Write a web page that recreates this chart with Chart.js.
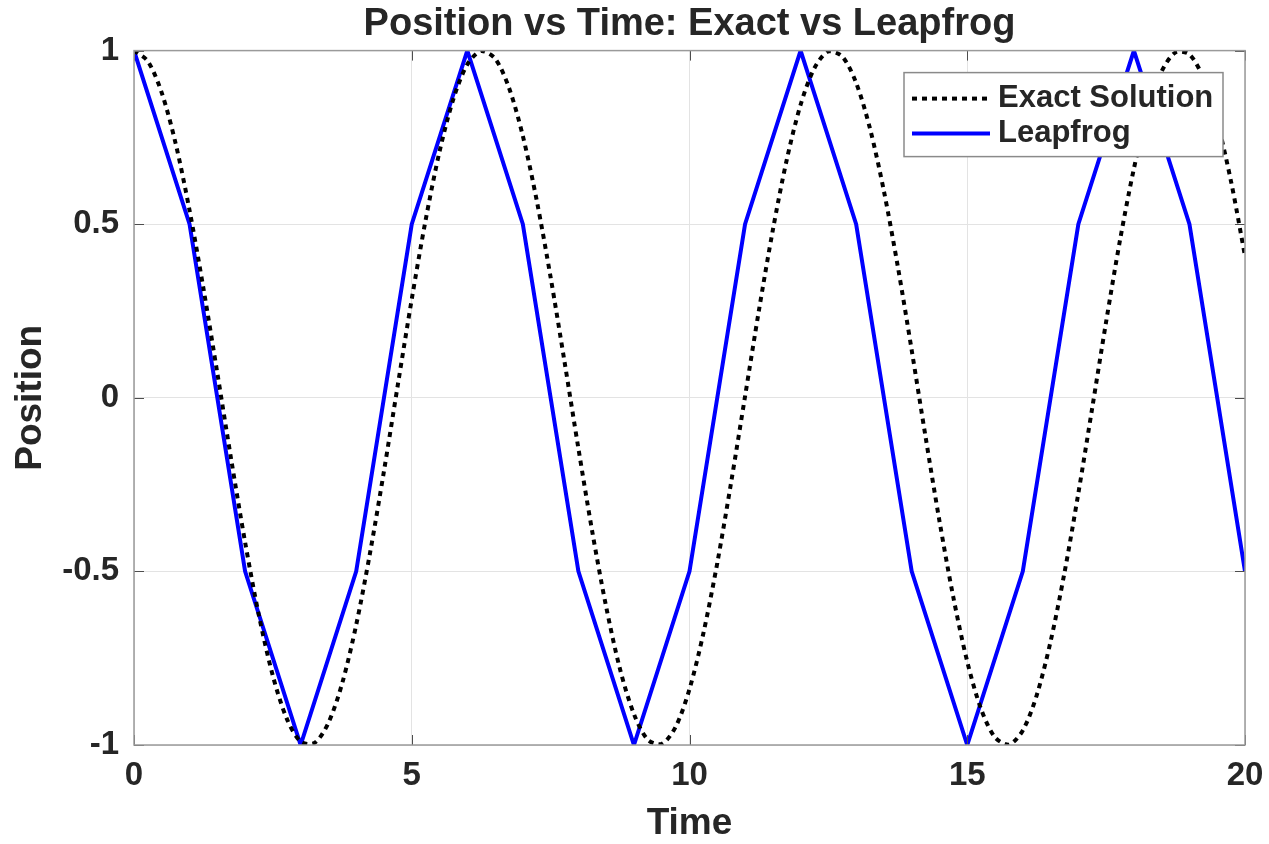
<!DOCTYPE html>
<html>
<head>
<meta charset="utf-8">
<title>Position vs Time</title>
<script src="https://cdn.jsdelivr.net/npm/chart.js@4.4.1/dist/chart.umd.min.js"></script>
<style>
  html, body { margin: 0; padding: 0; background: #fff; }
  #wrap { width: 1269px; height: 844px; }
</style>
</head>
<body>
<div id="wrap"><canvas id="posChart" width="1269" height="844"></canvas></div>
<script>
// leapfrog integration, one sample per time unit
const stepTimes = [0, 1, 2, 3, 4, 5, 6, 7, 8, 9, 10, 11, 12, 13, 14, 15, 16, 17, 18, 19, 20];
const leapfrogPos = [1, 0.5, -0.5, -1, -0.5, 0.5, 1, 0.5, -0.5, -1, -0.5, 0.5, 1, 0.5, -0.5, -1, -0.5, 0.5, 1, 0.5, -0.5];

// exact solution sampled every 0.25
const exactTimes = [
  0, 0.25, 0.5, 0.75, 1, 1.25, 1.5, 1.75, 2, 2.25, 2.5, 2.75, 3, 3.25, 3.5, 3.75,
  4, 4.25, 4.5, 4.75, 5, 5.25, 5.5, 5.75, 6, 6.25, 6.5, 6.75, 7, 7.25, 7.5, 7.75,
  8, 8.25, 8.5, 8.75, 9, 9.25, 9.5, 9.75, 10, 10.25, 10.5, 10.75, 11, 11.25, 11.5, 11.75,
  12, 12.25, 12.5, 12.75, 13, 13.25, 13.5, 13.75, 14, 14.25, 14.5, 14.75, 15, 15.25, 15.5, 15.75,
  16, 16.25, 16.5, 16.75, 17, 17.25, 17.5, 17.75, 18, 18.25, 18.5, 18.75, 19, 19.25, 19.5, 19.75, 20
];
const exactPos = [
  1.000, 0.969, 0.878, 0.732, 0.540, 0.315, 0.071, -0.178, -0.416, -0.628, -0.801, -0.924, -0.990, -0.994, -0.936, -0.821,
  -0.654, -0.446, -0.211, 0.038, 0.284, 0.512, 0.709, 0.861, 0.960, 0.999, 0.977, 0.893, 0.754, 0.568, 0.347, 0.104,
  -0.146, -0.386, -0.602, -0.782, -0.911, -0.985, -0.997, -0.948, -0.839, -0.678, -0.476, -0.243, 0.004, 0.252, 0.483, 0.685,
  0.844, 0.950, 0.998, 0.983, 0.907, 0.775, 0.595, 0.378, 0.137, -0.113, -0.355, -0.575, -0.760, -0.897, -0.978, -0.999,
  -0.958, -0.857, -0.702, -0.504, -0.275, -0.029, 0.219, 0.454, 0.660, 0.826, 0.940, 0.995, 0.989, 0.921, 0.796, 0.622, 0.408
];

const FONT = '"Liberation Sans", Arial, Helvetica, sans-serif';
const TEXT = '#262626';
const EXACT_DASH = [5, 5];

// box around the axes with short inward ticks on every side
const framePlugin = {
  id: 'frame',
  afterDatasetsDraw(chart) {
    const { ctx, chartArea: a, scales } = chart;
    const len = 10;
    ctx.save();
    ctx.strokeStyle = '#4d4d4d';
    ctx.lineWidth = 1;
    ctx.beginPath();
    scales.x.ticks.forEach(t => {
      const px = Math.round(scales.x.getPixelForValue(t.value)) + 0.5;
      ctx.moveTo(px, a.bottom); ctx.lineTo(px, a.bottom - len);
      ctx.moveTo(px, a.top); ctx.lineTo(px, a.top + len);
    });
    scales.y.ticks.forEach(t => {
      const py = Math.round(scales.y.getPixelForValue(t.value)) + 0.5;
      ctx.moveTo(a.left, py); ctx.lineTo(a.left + len, py);
      ctx.moveTo(a.right, py); ctx.lineTo(a.right - len, py);
    });
    ctx.stroke();
    ctx.strokeStyle = '#9a9a9a';
    ctx.lineWidth = 1.5;
    ctx.strokeRect(a.left, a.top, a.right - a.left, a.bottom - a.top);
    ctx.restore();
  }
};

// legend box in the upper right corner of the axes
const boxLegend = {
  id: 'boxLegend',
  afterDraw(chart) {
    const { ctx, chartArea: a } = chart;
    const w = 319, h = 84;
    const x = a.right - 22 - w, y = a.top + 22;
    ctx.save();
    ctx.fillStyle = '#fff';
    ctx.fillRect(x, y, w, h);
    ctx.strokeStyle = '#8a8a8a';
    ctx.lineWidth = 1.5;
    ctx.strokeRect(x, y, w, h);
    ctx.font = 'bold 31px ' + FONT;
    ctx.textBaseline = 'middle';
    ctx.fillStyle = TEXT;
    chart.data.datasets.forEach((ds, i) => {
      const cy = y + 26 + i * 35;
      ctx.beginPath();
      ctx.strokeStyle = ds.borderColor;
      ctx.lineWidth = ds.borderWidth;
      ctx.setLineDash(ds.borderDash || []);
      ctx.moveTo(x + 8, cy);
      ctx.lineTo(x + 86, cy);
      ctx.stroke();
      ctx.setLineDash([]);
      ctx.fillText(ds.label, x + 94, cy);
    });
    ctx.restore();
  }
};

new Chart(document.getElementById('posChart'), {
  type: 'line',
  data: {
    datasets: [
      {
        label: 'Exact Solution',
        data: exactTimes.map((t, i) => ({ x: t, y: exactPos[i] })),
        borderColor: '#000000',
        borderWidth: 4,
        borderDash: EXACT_DASH,
        pointRadius: 0,
        tension: 0.3,
        fill: false,
      },
      {
        label: 'Leapfrog',
        data: stepTimes.map((t, i) => ({ x: t, y: leapfrogPos[i] })),
        borderColor: '#0000ff',
        borderWidth: 4,
        pointRadius: 0,
        tension: 0,
        fill: false,
      }
    ]
  },
  options: {
    responsive: false,
    animation: false,
    layout: { padding: { left: 0, right: 24, top: 0, bottom: 0 } },
    plugins: {
      legend: { display: false },
      tooltip: { enabled: false },
      title: {
        display: true,
        fullSize: false,
        text: 'Position vs Time: Exact vs Leapfrog',
        color: TEXT,
        font: { family: FONT, size: 38, weight: 'bold' },
        padding: { top: 2, bottom: 3 }
      }
    },
    scales: {
      x: {
        type: 'linear',
        min: 0,
        max: 20,
        afterFit: s => { s.height = 99; s.paddingRight = 0; },
        ticks: { stepSize: 5, color: TEXT, padding: 11, font: { family: FONT, size: 33, weight: 'bold' }, maxRotation: 0 },
        grid: { color: '#e3e3e3', lineWidth: 1, drawTicks: false },
        border: { display: false },
        title: {
          display: true,
          text: 'Time',
          color: TEXT,
          font: { family: FONT, size: 37, weight: 'bold', lineHeight: 1 },
          padding: { top: 0, bottom: 2 }
        }
      },
      y: {
        min: -1,
        max: 1,
        afterFit: s => { s.width = 134; },
        ticks: {
          stepSize: 0.5,
          color: TEXT,
          padding: 15,
          font: { family: FONT, size: 33, weight: 'bold' },
          callback: v => String(v)
        },
        grid: { color: '#e3e3e3', lineWidth: 1, drawTicks: false },
        border: { display: false },
        title: {
          display: true,
          text: 'Position',
          color: TEXT,
          font: { family: FONT, size: 37, weight: 'bold', lineHeight: 1 },
          padding: { top: 12, bottom: 0 }
        }
      }
    }
  },
  plugins: [framePlugin, boxLegend]
});
</script>
</body>
</html>
